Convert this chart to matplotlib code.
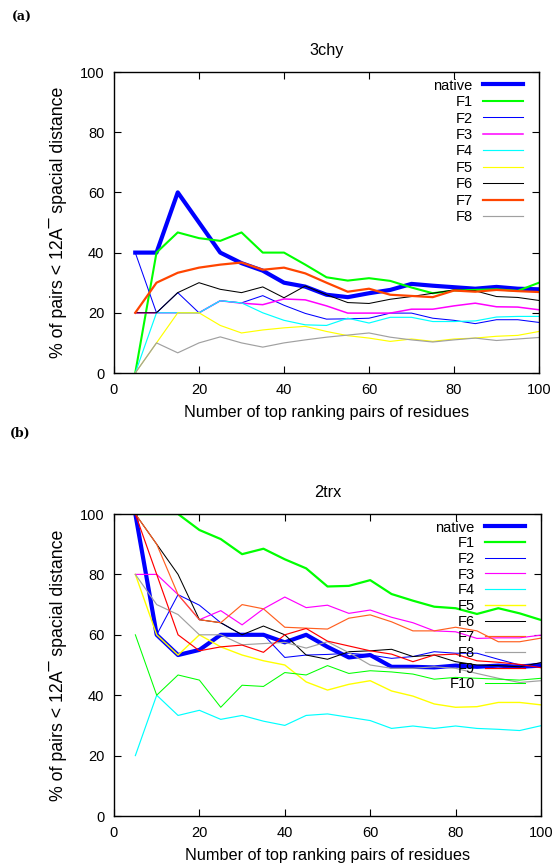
import matplotlib
matplotlib.use("Agg")
import matplotlib.pyplot as plt

plt.rcParams['font.family'] = ['Liberation Sans', 'DejaVu Sans']

x = [5, 10, 15, 20, 25, 30, 35, 40, 45, 50, 55, 60, 65, 70, 75, 80, 85, 90, 95, 100]

# ---- panel (a): 3chy ----
a_native = [40, 40, 60, 50, 40, 36.5, 34, 30, 28.7, 26, 25.2, 26.5, 27.6, 29.6, 29, 28.5, 28, 28.6, 28, 27.8]
a_F1 = [0, 40, 46.7, 44.8, 43.9, 46.7, 40, 40, 36, 31.8, 30.7, 31.5, 30.6, 28.4, 26.5, 27.4, 27.6, 27.8, 27.3, 30]
a_F2 = [40, 20, 26.7, 20, 24, 23.3, 25.7, 22.5, 19.8, 17.9, 18, 18.2, 19.9, 19.9, 18.2, 17.5, 16.4, 17.7, 17.7, 16.8]
a_F3 = [20, 20, 20, 20, 24, 23.2, 22.7, 24.6, 24.3, 22.3, 19.9, 19.9, 19.9, 21.2, 21.2, 22.3, 23.2, 22, 21.9, 21]
a_F4 = [0, 20, 20, 20, 24, 23.3, 20, 17.5, 16, 15.8, 18.2, 16.6, 18.5, 18.5, 17.1, 17.1, 17.3, 18.6, 18.8, 18.8]
a_F5 = [0, 10, 20, 20, 15.8, 13.3, 14.3, 15, 15.5, 13.8, 12.4, 11.6, 10.5, 11.3, 10.5, 11.3, 11.6, 12.2, 12.5, 13.8]
a_F6 = [20, 20, 26.7, 30, 27.8, 26.7, 28.6, 25, 28.9, 26, 23.4, 23.1, 24.5, 25.4, 26.5, 27.6, 27.3, 25.4, 25.1, 24.1]
a_F7 = [20, 30, 33.3, 35, 36, 36.7, 34.3, 35, 33.1, 30, 27, 28, 26, 25.6, 25.2, 27.4, 27, 27.6, 27.2, 26.9]
a_F8 = [0, 10, 6.7, 10, 12, 10, 8.6, 10, 11, 11.9, 12.6, 13.3, 11.9, 11, 10.3, 11, 11.6, 10.8, 11.3, 11.8]

# ---- panel (b): 2trx ----
b_native = [100, 60, 53.3, 55, 60, 60, 60, 57.5, 60, 56, 52.5, 53.3, 49.4, 49.4, 49.2, 49.8, 49.4, 49.8, 49.4, 49.8]
b_F1 = [100, 100, 100, 94.7, 91.7, 86.7, 88.5, 85, 82, 76, 76.2, 78.1, 73.5, 71.3, 69.3, 68.8, 66.9, 68.8, 67.1, 64.9]
b_F2 = [100, 60, 73.3, 69.8, 64, 60, 60, 52.5, 53.3, 53.5, 53.9, 53.3, 52.2, 52.8, 54.4, 53.9, 53.9, 51.9, 50, 50.6]
b_F3 = [80, 80, 73.3, 65, 68, 63.3, 68.6, 72.5, 69, 69.8, 67.1, 68.2, 65.8, 64, 61.3, 61, 58.8, 59, 59, 59.9]
b_F4 = [20, 40, 33.3, 35, 32, 33.3, 31.4, 30, 33.3, 33.8, 32.7, 31.6, 29, 29.8, 29, 29.8, 29, 28.7, 28.3, 29.9]
b_F5 = [80, 60, 53.3, 60, 56, 53.3, 51.4, 50, 44.4, 41.7, 43.6, 44.8, 41.4, 39.7, 37.1, 36, 36.2, 37.6, 37.6, 36.8]
b_F6 = [100, 90, 80, 65, 64, 60, 62.9, 60, 53.3, 51.9, 54.4, 54.7, 55.2, 52.8, 53.3, 51.1, 50, 49.8, 49.4, 50.8]
b_F7 = [100, 90, 73.3, 65, 64, 70, 68.6, 62.5, 62.2, 61.9, 65.5, 66.6, 64.3, 61.3, 61.3, 62.5, 61.3, 57.7, 57.7, 58.9]
b_F8 = [80, 70, 66.7, 60, 60, 56.7, 57.1, 57.5, 55.6, 57.7, 54.1, 50, 48.9, 48.9, 49.4, 48.9, 47.2, 45.6, 44.2, 44.8]
b_F9 = [100, 80, 60, 54.7, 56, 56.6, 54.2, 60, 62.1, 57.9, 56.3, 54.7, 53.6, 51.1, 53.3, 53.6, 51.4, 50.9, 50.2, 49.1]
b_F10 = [60, 40, 46.7, 45, 36, 43.3, 42.9, 47.5, 46.7, 49.8, 47.2, 48.1, 47.7, 47, 45.3, 45.9, 45.6, 45.3, 45, 45.6]

labels_a = ['native', 'F1', 'F2', 'F3', 'F4', 'F5', 'F6', 'F7', 'F8']
labels_b = ['native', 'F1', 'F2', 'F3', 'F4', 'F5', 'F6', 'F7', 'F8', 'F9', 'F10']

styles_a = [('#0000ff', 3.0), ('#00ff00', 1.5), ('#0000ff', 0.75), ('#ff00ff', 1.1),
            ('#00ffff', 0.85), ('#ffff00', 0.85), ('#000000', 0.75), ('#ff4500', 1.6), ('#a0a0a0', 0.85)]
styles_b = [('#0000ff', 3.0), ('#00ff00', 1.6), ('#0000ff', 0.75), ('#ff00ff', 0.85),
            ('#00ffff', 0.85), ('#ffff00', 1.0), ('#000000', 0.75), ('#ff6020', 0.85), ('#a0a0a0', 0.85),
            ('#ff0000', 0.85), ('#00ff00', 0.75)]

fig = plt.figure(figsize=(5.56, 8.63), dpi=100)
W, H = 556, 863


def make_axes(left, right, top, bottom):
    return fig.add_axes([left / W, 1 - bottom / H, (right - left) / W, (bottom - top) / H])


def style_axes(ax, title):
    ax.set_xlim(0, 100)
    ax.set_ylim(0, 100)
    ax.set_xticks([0, 20, 40, 60, 80, 100])
    ax.set_yticks([0, 20, 40, 60, 80, 100])
    ax.tick_params(direction='in', top=True, right=True, length=5, width=0.8,
                   labelsize=10.5, pad=7)
    for s in ax.spines.values():
        s.set_linewidth(1.0)
    ax.set_title(title, fontsize=11.7, pad=12)
    ax.set_xlabel('Number of top ranking pairs of residues', fontsize=11.7, labelpad=6)
    ax.set_ylabel('% of pairs < 12A\u00af spacial distance', fontsize=12.8, labelpad=9)


ax1 = make_axes(114, 539, 72, 373)
series_a = [a_native, a_F1, a_F2, a_F3, a_F4, a_F5, a_F6, a_F7, a_F8]
for ys, lab, (c, lw) in zip(series_a, labels_a, styles_a):
    ax1.plot(x, ys, color=c, lw=lw, label=lab)
style_axes(ax1, '3chy')
ax1.legend(loc='upper right', frameon=False, markerfirst=False, fontsize=10.5,
           handlelength=2.74, handletextpad=0.68, labelspacing=0.17,
           borderaxespad=0.05, bbox_to_anchor=(0.977, 1.0))

ax2 = make_axes(114, 541, 514, 816)
series_b = [b_native, b_F1, b_F2, b_F3, b_F4, b_F5, b_F6, b_F7, b_F8, b_F9, b_F10]
for ys, lab, (c, lw) in zip(series_b, labels_b, styles_b):
    ax2.plot(x, ys, color=c, lw=lw, label=lab)
style_axes(ax2, '2trx')
ax2.legend(loc='upper right', frameon=False, markerfirst=False, fontsize=10.5,
           handlelength=2.74, handletextpad=0.68, labelspacing=0.115,
           borderaxespad=0.05, bbox_to_anchor=(0.977, 1.0))

fig.text(12 / W, 1 - 17 / H, '(a)', family='DejaVu Serif', fontweight='bold', fontsize=9, va='center')
fig.text(10 / W, 1 - 433 / H, '(b)', family='DejaVu Serif', fontweight='bold', fontsize=9, va='center')

fig.savefig('out.png', dpi=100)
